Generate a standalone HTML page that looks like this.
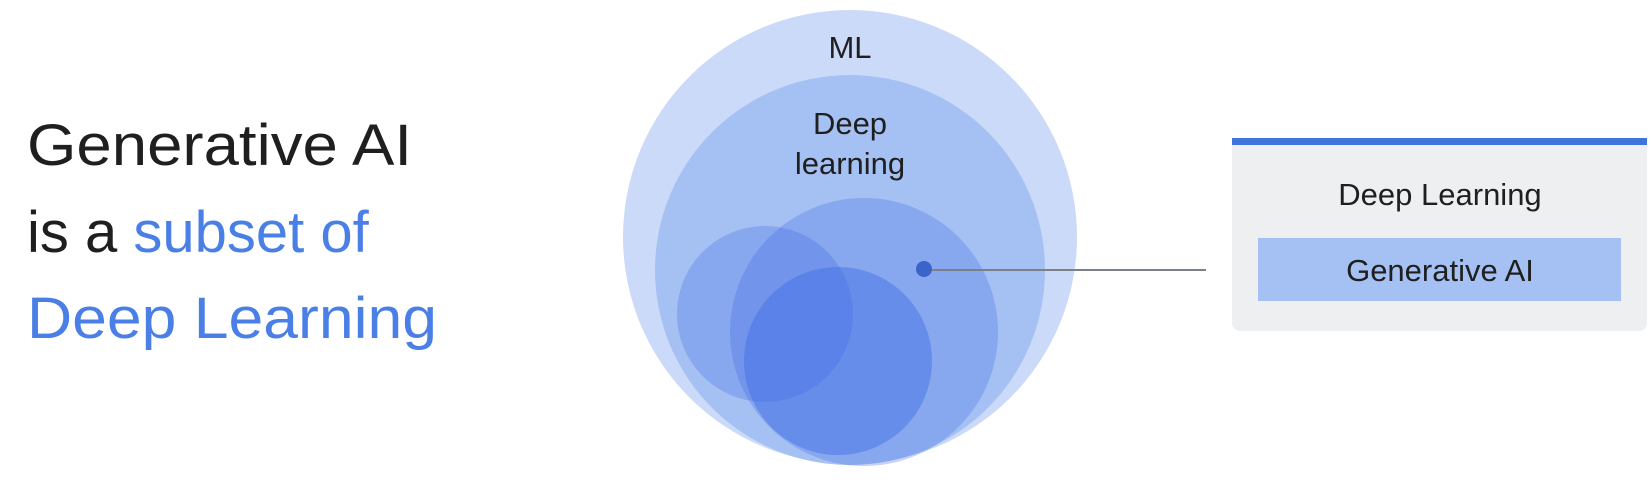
<!DOCTYPE html>
<html><head><meta charset="utf-8"><style>
html,body{margin:0;padding:0;background:#fff;width:1651px;height:492px;overflow:hidden}
svg{display:block}
text{font-family:"Liberation Sans",sans-serif}
</style></head><body>
<svg width="1651" height="492" viewBox="0 0 1651 492">
<rect width="1651" height="492" fill="#fff"/>
<text x="27" y="165" font-size="58" fill="#1f1f1f" textLength="385" lengthAdjust="spacingAndGlyphs">Generative AI</text>
<text x="27" y="252" font-size="58" fill="#1f1f1f">is a <tspan fill="#4a7fe6">subset of</tspan></text>
<text x="27" y="338" font-size="58" fill="#4a7fe6" textLength="410" lengthAdjust="spacingAndGlyphs">Deep Learning</text>

<circle cx="850" cy="237" r="227" fill="#cbdaf8"/>
<circle cx="850" cy="270" r="195" fill="#a5c0f3"/>
<circle cx="864" cy="332" r="134" fill="rgba(66,110,230,0.3)"/>
<circle cx="765" cy="314" r="88" fill="rgba(66,110,230,0.3)"/>
<circle cx="838" cy="361" r="94" fill="rgba(60,105,228,0.42)"/>
<text x="850" y="58" font-size="31" fill="#1f1f1f" text-anchor="middle">ML</text>
<text x="850" y="134" font-size="31" fill="#1f1f1f" text-anchor="middle">Deep</text>
<text x="850" y="174" font-size="31" fill="#1f1f1f" text-anchor="middle">learning</text>
<line x1="924" y1="270" x2="1206" y2="270" stroke="#7a7f88" stroke-width="2"/>
<circle cx="924" cy="269" r="8" fill="#3a64c8"/>

<rect x="1232" y="138" width="415" height="193" rx="8" fill="#eeeff1"/>
<rect x="1232" y="138" width="415" height="7" fill="#3f74de"/>
<text x="1440" y="205" font-size="31" fill="#1f1f1f" text-anchor="middle">Deep Learning</text>
<rect x="1258" y="238" width="363" height="63" fill="#a5c0f3"/>
<text x="1440" y="281" font-size="31" fill="#1f1f1f" text-anchor="middle">Generative AI</text>
</svg>
</body></html>
